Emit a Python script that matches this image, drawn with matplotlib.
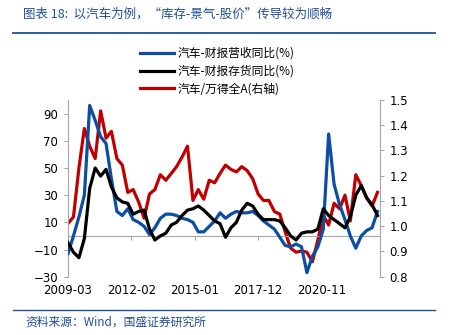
import matplotlib
matplotlib.use("Agg")
import matplotlib.pyplot as plt
import matplotlib.dates as mdates
import numpy as np
import pandas as pd

plt.rcParams["font.family"] = ["Noto Sans CJK SC", "DejaVu Sans"]

# quarterly samples, 2009-03 .. 2023-06
dates = pd.date_range("2009-03-01", periods=58, freq="3MS")

revenue_yoy = [-13, 0, 14, 30, 96, 85, 73, 68, 42, 18, 15, 20, 12, 10, 7, 1,
               6, 13, 16, 16, 15, 13, 12, 10, 3, 3, 7, 11, 17, 13, 16, 18,
               17, 17, 18, 15, 11, 8, 5, -1, -7, -8, -6, -8, -27, -15, -8, 5,
               75, 38, 23, 12, 0, -9, 0, 4, 6, 18]
inventory_yoy = [-5, -12, -16, -2, 35, 50, 44, 49, 36, 28, 25, 24, 16, 18, 19, 5,
                 -3, 0, 2, 8, 10, 15, 19, 20, 22, 19, 15, 11, 9, -1, 6, 10,
                 19, 24, 22, 16, 12, 12, 12, 11, 6, 0, -3, 2, 3, 3, 5, 20,
                 15, 12, 9, 6, 14, 30, 37, 28, 23, 15]
auto_vs_a = [1.010, 1.037, 1.231, 1.387, 1.317, 1.268, 1.457, 1.349, 1.376, 1.268,
             1.242, 1.134, 1.145, 1.096, 1.032, 1.128, 1.145, 1.204, 1.182, 1.209,
             1.236, 1.274, 1.317, 1.102, 1.145, 1.107, 1.182, 1.172, 1.209, 1.242,
             1.225, 1.215, 1.236, 1.220, 1.188, 1.128, 1.102, 1.102, 1.058, 1.048,
             0.978, 0.913, 0.897, 0.902, 0.897, 0.859, 0.945, 1.042, 1.005, 1.091,
             1.069, 1.123, 1.021, 1.204, 1.161, 1.112, 1.080, 1.134]

labels = ["汽车-财报营收同比(%)", "汽车-财报存货同比(%)", "汽车/万得全A(右轴)"]
xtick_labels = ["2009-03", "2012-02", "2015-01", "2017-12", "2020-11"]

BLUE = "#0B4EA2"
RED = "#C00000"
NAVY = "#1F4E9A"
GRAY = "#A6A6A6"

fig = plt.figure(figsize=(4.5, 3.35), dpi=100)
ax = fig.add_axes([68 / 450, 1 - 276.7 / 335, 312 / 450, 176.7 / 335])
ax2 = ax.twinx()

l1, = ax.plot(dates, revenue_yoy, color=BLUE, lw=2.3, zorder=3)
l2, = ax.plot(dates, inventory_yoy, color="black", lw=2.3, zorder=4)
l3, = ax2.plot(dates, auto_vs_a, color=RED, lw=2.3)
ax.set_zorder(ax2.get_zorder() + 1)
ax.patch.set_visible(False)

ax.set_ylim(-30, 100)
ax.set_yticks(np.arange(-30, 91, 20))
ax2.set_ylim(0.8, 1.5)
ax2.set_yticks(np.arange(0.8, 1.51, 0.1))
ax2.yaxis.set_major_formatter(matplotlib.ticker.FormatStrFormatter("%.1f"))

xmin, xmax = pd.Timestamp("2009-03-01"), pd.Timestamp("2023-07-13")
ax.set_xlim(xmin, xmax)
xticks = [pd.Timestamp(s + "-01") for s in xtick_labels]
ax.set_xticks(xticks)
ax.set_xticklabels(xtick_labels)

for a in (ax, ax2):
    for s in a.spines.values():
        s.set_visible(False)
ax.spines["left"].set_visible(True)
ax.spines["left"].set_color(GRAY)
ax2.spines["right"].set_visible(True)
ax2.spines["right"].set_color(GRAY)

ax.tick_params(axis="y", direction="out", length=3, color=GRAY, labelsize=8.5, pad=4)
ax2.tick_params(axis="y", direction="out", length=3, color=GRAY, labelsize=8.5, pad=4)
ax.tick_params(axis="x", length=0, labelsize=8.5, pad=5)
for t in ax.get_xticklabels() + ax.get_yticklabels() + ax2.get_yticklabels():
    t.set_family("DejaVu Sans")

# zero line with tick marks (Excel-style category axis crossing at 0)
zloc = (0 - ax.get_ylim()[0]) / (ax.get_ylim()[1] - ax.get_ylim()[0])
sec = ax.secondary_xaxis(zloc)
sec.set_xticks(xticks)
sec.tick_params(axis="x", direction="out", length=3, color=GRAY, labelbottom=False)
sec.spines["bottom"].set_color(GRAY)

leg = ax.legend([l1, l2, l3], labels, loc="upper left",
                bbox_to_anchor=(140 / 450, 1 - 47 / 335), bbox_transform=fig.transFigure,
                frameon=False, fontsize=8.5, handlelength=2.9, handletextpad=0.3,
                labelspacing=0.4, borderpad=0, borderaxespad=0)

# header / footer
fig.text(23 / 450, 1 - 14 / 335, "图表 18:  以汽车为例，“库存-景气-股价”传导较为顺畅",
         color=NAVY, fontsize=9, va="center", style="italic")
fig.add_artist(plt.Line2D([13 / 450, 435 / 450], [1 - 33 / 335] * 2, color=NAVY, lw=1.3))
fig.add_artist(plt.Line2D([13 / 450, 435 / 450], [1 - 310 / 335] * 2, color=NAVY, lw=1.0))
fig.text(25 / 450, 1 - 322 / 335, "资料来源：Wind，国盛证券研究所",
         color=NAVY, fontsize=8.5, va="center", style="italic")

fig.savefig("out.png", dpi=100)
